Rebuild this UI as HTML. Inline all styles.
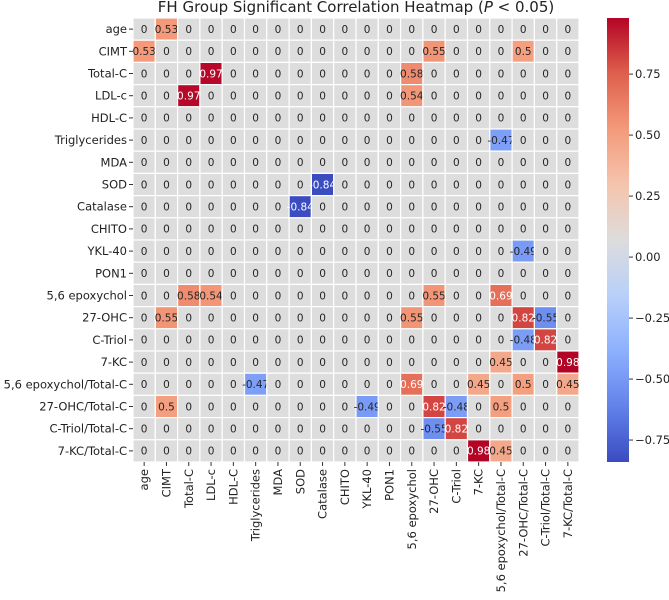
<!DOCTYPE html>
<html><head><meta charset="utf-8"><style>
body{margin:0;background:#fff;}
svg text{font-family:"DejaVu Sans","Liberation Sans",sans-serif;}
</style></head><body>
<svg id="c" width="669" height="595" xmlns="http://www.w3.org/2000/svg">
<text x="356" y="12" text-anchor="middle" font-size="15" fill="#222">FH Group Significant Correlation Heatmap (<tspan font-style="italic">P</tspan> &lt; 0.05)</text>
<defs><linearGradient id="cg" x1="0" y1="1" x2="0" y2="0">
<stop offset="0" stop-color="rgb(58,76,192)"/><stop offset="0.125" stop-color="rgb(98,130,234)"/><stop offset="0.25" stop-color="rgb(141,176,254)"/><stop offset="0.375" stop-color="rgb(184,208,249)"/><stop offset="0.5" stop-color="rgb(221,220,220)"/><stop offset="0.625" stop-color="rgb(245,196,173)"/><stop offset="0.75" stop-color="rgb(244,154,123)"/><stop offset="0.875" stop-color="rgb(222,96,76)"/><stop offset="1" stop-color="rgb(180,4,38)"/>
</linearGradient></defs>
<g id="cells"></g><g id="ylab"></g><g id="xlab"></g><g id="cbar"></g>
</svg>
<script>
const labels=["age","CIMT","Total-C","LDL-c","HDL-C","Triglycerides","MDA","SOD","Catalase","CHITO","YKL-40","PON1","5,6 epoxychol","27-OHC","C-Triol","7-KC","5,6 epoxychol/Total-C","27-OHC/Total-C","C-Triol/Total-C","7-KC/Total-C"];
const pairRows=[0,1,1,2,2,3,5,7,10,12,12,13,13,14,14,15,15,16,16];
const pairCols=[1,13,17,3,12,12,16,8,17,13,16,17,18,17,18,16,19,17,19];
const pairVals=[0.53,0.55,0.5,0.97,0.58,0.54,-0.47,-0.84,-0.49,0.55,0.69,0.82,-0.55,-0.48,0.82,0.45,0.98,0.5,0.45];
const cbTicks=[0.75,0.5,0.25,0,-0.25,-0.5,-0.75];
const vmin=-0.84,vmax=0.98;
const N=labels.length,X0=133,Y0=18,W=446,H=444,cw=W/N,ch=H/N;
const NS="http://www.w3.org/2000/svg";
const M=[];for(let i=0;i<N;i++){M.push(new Array(N).fill(0));}
pairVals.forEach((v,k)=>{M[pairRows[k]][pairCols[k]]=v;M[pairCols[k]][pairRows[k]]=v;});
const stops=[[58,76,192],[98,130,234],[141,176,254],[184,208,249],[221,220,220],[245,196,173],[244,154,123],[222,96,76],[180,4,38]];
function color(v){if(v===0)return 'rgb(221,221,221)';let t=(v-vmin)/(vmax-vmin);t=Math.max(0,Math.min(1,t))*8;const i=Math.min(7,Math.floor(t)),f=t-i;const a=stops[i],b=stops[i+1];return `rgb(${a.map((x,j)=>Math.round(x+(b[j]-x)*f)).join(',')})`;}
function xs(j){return X0+j*cw;}function ys(i){return Y0+i*ch;}
function cbY(v){return Y0+(vmax-v)/(vmax-vmin)*H;}
function mk(tag,at,parent){const e=document.createElementNS(NS,tag);for(const k in at)e.setAttribute(k,at[k]);parent.appendChild(e);return e;}
const cells=document.getElementById('cells');
for(let i=0;i<N;i++)for(let j=0;j<N;j++){
 const v=M[i][j];
 const r=mk('rect',{x:xs(j),y:ys(i),width:cw,height:ch,fill:color(v),stroke:'#fff','stroke-width':1.2},cells);
 
 
 const t=mk('text',{x:xs(j)+cw/2,y:ys(i)+ch/2+3.8,'text-anchor':'middle','font-size':10.5,fill:Math.abs(v)>0.6?'#fff':'#262626'},cells);
 t.textContent=v===0?'0':String(v);
 
 
}
const yl=document.getElementById('ylab'),xl=document.getElementById('xlab');
labels.forEach((l,i)=>{
 mk('line',{x1:X0-4,x2:X0,y1:ys(i)+ch/2,y2:ys(i)+ch/2,stroke:'#333'},yl);
 const t=mk('text',{x:X0-6,y:ys(i)+ch/2+4,'text-anchor':'end','font-size':11.5,fill:'#222'},yl);
 t.textContent=l;
 
 
 const cx=xs(i)+cw/2;
 mk('line',{x1:cx,x2:cx,y1:Y0+H,y2:Y0+H+4,stroke:'#333'},xl);
 const u=mk('text',{x:cx+4,y:Y0+H+7,'text-anchor':'end','font-size':11.5,fill:'#222',transform:`rotate(-90 ${cx+4} ${Y0+H+7})`},xl);
 u.textContent=l;
 
 
});
const cb=document.getElementById('cbar');
const bar=mk('rect',{x:607,y:Y0,width:22,height:H,fill:'url(#cg)'},cb);


cbTicks.forEach(v=>{
 const y=cbY(v);
 mk('line',{x1:629,x2:633,y1:y,y2:y,stroke:'#333'},cb);
 const t=mk('text',{x:635,y:y+4,'font-size':11.5,fill:'#222'},cb);
 t.textContent=(v<0?'\u2212':'')+Math.abs(v).toFixed(2);
 
 
});
</script>
</body></html>
